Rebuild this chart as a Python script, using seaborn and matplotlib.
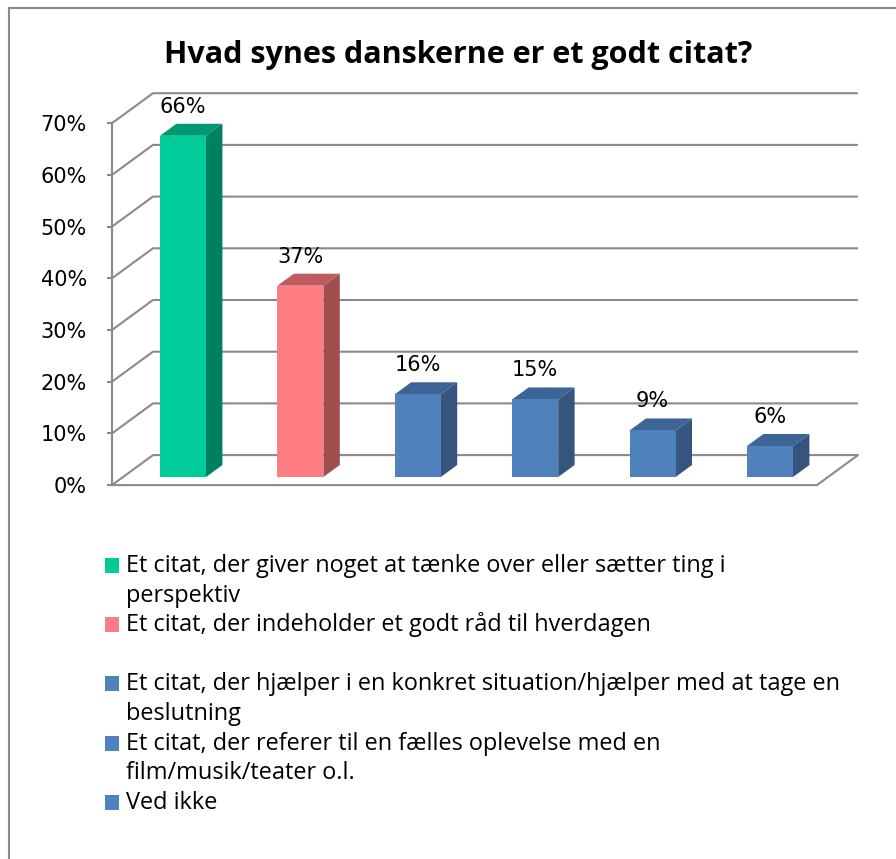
import matplotlib
matplotlib.use("Agg")
import matplotlib.pyplot as plt
from matplotlib.lines import Line2D
from matplotlib.patches import Rectangle
import seaborn as sns

# data
categories = ["Tænke over / perspektiv", "Godt råd til hverdagen", "Konkret situation",
              "Fælles oplevelse", "Ved ikke", "Andet"]
values = [66, 37, 16, 15, 9, 6]
front_colors = ["#00CC99", "#FF7C80", "#4F81BD", "#4F81BD", "#4F81BD", "#4F81BD"]
side_colors = ["#008060", "#A04F51", "#35557F", "#35557F", "#35557F", "#35557F"]
top_colors = ["#009972", "#C05C5E", "#3C6494", "#3C6494", "#3C6494", "#3C6494"]
yticks = [0, 10, 20, 30, 40, 50, 60, 70]
title = "Hvad synes danskerne er et godt citat?"
legend_items = [
    ["Et citat, der giver noget at tænke over eller sætter ting i", "perspektiv"],
    ["Et citat, der indeholder et godt råd til hverdagen", ""],
    ["Et citat, der hjælper i en konkret situation/hjælper med at tage en", "beslutning"],
    ["Et citat, der referer til en fælles oplevelse med en", "film/musik/teater o.l."],
    ["Ved ikke"],
]
legend_colors = ["#00CC99", "#FF7C80", "#4F81BD", "#4F81BD", "#4F81BD"]

sns.set_style("white")
plt.rcParams['font.family'] = ['DejaVu Sans']
plt.rcParams['text.color'] = 'black'

W, H = 896, 859
fig = plt.figure(figsize=(W / 100, H / 100), dpi=100)

# axes placed so that bar plane: x px = 183 + 117.4*i, y px = 477 - 5.17*v
xl, xr = -0.75, 5.78
yb, yt = -6, 75
px_left = 183 + xl * 117.4
px_right = 183 + xr * 117.4
py_bot = 477 - yb * 5.17
py_top = 477 - yt * 5.17
ax = fig.add_axes([px_left / W, 1 - py_bot / H, (px_right - px_left) / W, (py_bot - py_top) / H])

# depth vector (full floor depth) in data units, bar plane sits at depth d0
ddx, ddy = 41 / 117.4, 30 / 5.17
d0 = 0.27
bar_depth = 0.4
grid_c = "#8a8a8a"
glw = 1.5

def pt(xf, v, depth):
    # xf = x on the front edge, depth 0..1 from front to back wall
    return xf + depth * ddx, v + (depth - d0) * ddy

wall_x = -0.605
floor_right = 5.40

# walls and gridlines
for t in yticks:
    x1, y1 = pt(wall_x, t, 0)
    x2, y2 = pt(wall_x, t, 1)
    x3, y3 = pt(floor_right, t, 1)
    ax.plot([x1, x2, x3], [y1, y2, y3], color=grid_c, lw=glw, solid_capstyle="butt", zorder=1)
# floor
fx1, fy1 = pt(wall_x, 0, 0)
fx2, fy2 = pt(floor_right, 0, 0)
fx3, fy3 = pt(floor_right, 0, 1)
ax.plot([fx1, fx2, fx3], [fy1, fy2, fy3], color=grid_c, lw=glw, zorder=1)

# front faces through seaborn
sns.barplot(x=categories, y=values, hue=categories, palette=front_colors, width=0.392,
            saturation=1, legend=False, ax=ax, zorder=3, linewidth=0)

sdx, sdy = bar_depth * ddx, bar_depth * ddy
for i, p in enumerate(ax.patches):
    x0, w, h = p.get_x(), p.get_width(), p.get_height()
    ax.fill([x0 + w, x0 + w + sdx, x0 + w + sdx, x0 + w], [0, sdy, h + sdy, h],
            color=side_colors[i], lw=0, zorder=2.9)
    ax.fill([x0, x0 + w, x0 + w + sdx, x0 + sdx], [h, h, h + sdy, h + sdy],
            color=top_colors[i], lw=0, zorder=2.9)
    ax.text(x0 + w / 2, h + sdy + 3.3, f"{values[i]}%", ha="center", va="center",
            fontsize=15, color="black", zorder=4)

# value axis on the front edge of the left wall
ax.set_xlim(xl, xr)
ax.set_ylim(yb, yt)
front_off = -d0 * ddy
ax.spines["left"].set_position(("data", wall_x))
ax.spines["left"].set_bounds(front_off, 70 + front_off)
ax.spines["left"].set_color(grid_c)
ax.spines["left"].set_linewidth(glw)
ax.set_yticks([t + front_off for t in yticks])
ax.set_yticklabels([f"{t}%" for t in yticks])
ax.tick_params(axis="y", length=3.6, width=glw, color=grid_c, pad=14.4, left=True,
               labelsize=15, labelcolor="black")
for s in ["top", "right", "bottom"]:
    ax.spines[s].set_visible(False)
ax.set_xticks([])
ax.set_xlabel("")
ax.set_ylabel("")
ax.patch.set_alpha(0)

# title
fig.text(458 / W, 1 - 63 / H, title, ha="center", va="baseline", fontsize=22,
         fontweight="bold", family="Open Sans", color="black")

# legend, drawn line by line
line0, step = 572, 29.6
k = 0
for item, col in zip(legend_items, legend_colors):
    base = line0 + step * k
    fig.add_artist(Rectangle((105 / W, 1 - (base + 1) / H), 14 / W, 15 / H,
                             transform=fig.transFigure, color=col, lw=0))
    for j, line in enumerate(item):
        fig.text(126 / W, 1 - (base + step * j) / H, line, ha="left", va="baseline",
                 fontsize=16.9, family="Open Sans", color="black")
    k += len(item)

# outer frame
fig.add_artist(Line2D([9 / W, 9 / W], [0, 1 - 8 / H], transform=fig.transFigure,
                      color=grid_c, lw=1.5))
fig.add_artist(Line2D([9 / W, 1], [1 - 8 / H, 1 - 8 / H], transform=fig.transFigure,
                      color=grid_c, lw=1.5))

fig.savefig("out.png", dpi=100)
